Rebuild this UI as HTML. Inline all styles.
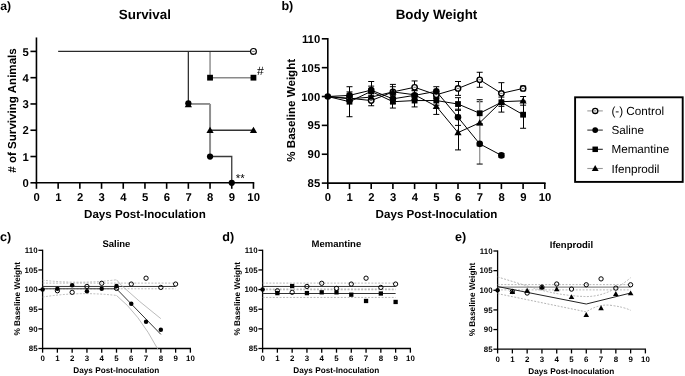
<!DOCTYPE html>
<html><head><meta charset="utf-8"><style>
html,body{margin:0;padding:0;background:#fff;}
svg{display:block;filter:grayscale(1);}
text{font-family:"Liberation Sans", sans-serif;text-rendering:geometricPrecision;}
</style></head><body>
<svg width="685" height="376" viewBox="0 0 685 376">
<rect width="685" height="376" fill="#fff"/>
<text x="0.30" y="9.70" font-size="12.2" font-weight="bold" text-anchor="start" fill="#000">a)</text>
<text x="144.90" y="19.40" font-size="13.4" font-weight="bold" text-anchor="middle" fill="#000">Survival</text>
<line x1="36.45" y1="183.60" x2="36.45" y2="37.47" stroke="#000" stroke-width="1.6"/>
<line x1="35.65" y1="182.80" x2="254.25" y2="182.80" stroke="#000" stroke-width="1.6"/>
<line x1="30.45" y1="182.80" x2="36.45" y2="182.80" stroke="#000" stroke-width="1.6"/>
<text x="28.85" y="186.90" font-size="11.3" font-weight="bold" text-anchor="end" fill="#000">0</text>
<line x1="30.45" y1="156.52" x2="36.45" y2="156.52" stroke="#000" stroke-width="1.6"/>
<text x="28.85" y="160.62" font-size="11.3" font-weight="bold" text-anchor="end" fill="#000">1</text>
<line x1="30.45" y1="130.24" x2="36.45" y2="130.24" stroke="#000" stroke-width="1.6"/>
<text x="28.85" y="134.34" font-size="11.3" font-weight="bold" text-anchor="end" fill="#000">2</text>
<line x1="30.45" y1="103.96" x2="36.45" y2="103.96" stroke="#000" stroke-width="1.6"/>
<text x="28.85" y="108.06" font-size="11.3" font-weight="bold" text-anchor="end" fill="#000">3</text>
<line x1="30.45" y1="77.68" x2="36.45" y2="77.68" stroke="#000" stroke-width="1.6"/>
<text x="28.85" y="81.78" font-size="11.3" font-weight="bold" text-anchor="end" fill="#000">4</text>
<line x1="30.45" y1="51.40" x2="36.45" y2="51.40" stroke="#000" stroke-width="1.6"/>
<text x="28.85" y="55.50" font-size="11.3" font-weight="bold" text-anchor="end" fill="#000">5</text>
<line x1="36.45" y1="182.80" x2="36.45" y2="188.80" stroke="#000" stroke-width="1.6"/>
<text x="36.65" y="201.20" font-size="11.3" font-weight="bold" text-anchor="middle" fill="#000">0</text>
<line x1="58.15" y1="182.80" x2="58.15" y2="188.80" stroke="#000" stroke-width="1.6"/>
<text x="58.35" y="201.20" font-size="11.3" font-weight="bold" text-anchor="middle" fill="#000">1</text>
<line x1="79.85" y1="182.80" x2="79.85" y2="188.80" stroke="#000" stroke-width="1.6"/>
<text x="80.05" y="201.20" font-size="11.3" font-weight="bold" text-anchor="middle" fill="#000">2</text>
<line x1="101.55" y1="182.80" x2="101.55" y2="188.80" stroke="#000" stroke-width="1.6"/>
<text x="101.75" y="201.20" font-size="11.3" font-weight="bold" text-anchor="middle" fill="#000">3</text>
<line x1="123.25" y1="182.80" x2="123.25" y2="188.80" stroke="#000" stroke-width="1.6"/>
<text x="123.45" y="201.20" font-size="11.3" font-weight="bold" text-anchor="middle" fill="#000">4</text>
<line x1="144.95" y1="182.80" x2="144.95" y2="188.80" stroke="#000" stroke-width="1.6"/>
<text x="145.15" y="201.20" font-size="11.3" font-weight="bold" text-anchor="middle" fill="#000">5</text>
<line x1="166.65" y1="182.80" x2="166.65" y2="188.80" stroke="#000" stroke-width="1.6"/>
<text x="166.85" y="201.20" font-size="11.3" font-weight="bold" text-anchor="middle" fill="#000">6</text>
<line x1="188.35" y1="182.80" x2="188.35" y2="188.80" stroke="#000" stroke-width="1.6"/>
<text x="188.55" y="201.20" font-size="11.3" font-weight="bold" text-anchor="middle" fill="#000">7</text>
<line x1="210.05" y1="182.80" x2="210.05" y2="188.80" stroke="#000" stroke-width="1.6"/>
<text x="210.25" y="201.20" font-size="11.3" font-weight="bold" text-anchor="middle" fill="#000">8</text>
<line x1="231.75" y1="182.80" x2="231.75" y2="188.80" stroke="#000" stroke-width="1.6"/>
<text x="231.95" y="201.20" font-size="11.3" font-weight="bold" text-anchor="middle" fill="#000">9</text>
<line x1="253.45" y1="182.80" x2="253.45" y2="188.80" stroke="#000" stroke-width="1.6"/>
<text x="253.65" y="201.20" font-size="11.3" font-weight="bold" text-anchor="middle" fill="#000">10</text>
<text x="144.90" y="218.30" font-size="11.6" font-weight="bold" text-anchor="middle" fill="#000">Days Post-Inoculation</text>
<text x="16.00" y="110.50" font-size="11.6" font-weight="bold" text-anchor="middle" fill="#000" transform="rotate(-90 16.0 110.5)"># of Surviving Animals</text>
<polyline points="210.05,51.40 210.05,77.68 253.45,77.68" fill="none" stroke="#8a8a8a" stroke-width="1.4"/>
<polyline points="188.35,51.40 188.35,103.96" fill="none" stroke="#333" stroke-width="1.3"/>
<polyline points="188.35,103.96 210.05,103.96" fill="none" stroke="#666" stroke-width="1.4"/>
<polyline points="210.05,103.96 210.05,156.52" fill="none" stroke="#8f8f8f" stroke-width="2.0"/>
<polyline points="210.05,130.24 253.45,130.24" fill="none" stroke="#333" stroke-width="1.3"/>
<polyline points="210.05,156.52 231.75,156.52 231.75,182.80" fill="none" stroke="#3a3a3a" stroke-width="1.3"/>
<polyline points="58.15,51.40 253.45,51.40" fill="none" stroke="#2a2a2a" stroke-width="1.3"/>
<circle cx="253.45" cy="51.40" r="2.90" fill="#fff" stroke="#000" stroke-width="1.2"/>
<line x1="252.15" y1="51.40" x2="254.75" y2="51.40" stroke="#555" stroke-width="0.90"/>
<rect x="207.15" y="74.78" width="5.80" height="5.80" fill="#000"/>
<rect x="250.55" y="74.78" width="5.80" height="5.80" fill="#000"/>
<circle cx="188.35" cy="103.36" r="3.13" fill="#000"/>
<polygon points="188.35,100.96 191.95,107.26 184.75,107.26" fill="#000"/>
<polygon points="210.05,126.64 213.65,132.94 206.45,132.94" fill="#000"/>
<polygon points="253.45,126.64 257.05,132.94 249.85,132.94" fill="#000"/>
<circle cx="210.05" cy="156.52" r="3.13" fill="#000"/>
<circle cx="231.75" cy="182.80" r="3.13" fill="#000"/>
<text x="257.00" y="75.00" font-size="12.2" font-weight="normal" text-anchor="start" fill="#000">#</text>
<text x="235.80" y="181.60" font-size="11.5" font-weight="normal" text-anchor="start" fill="#000">**</text>
<text x="281.40" y="9.60" font-size="12.6" font-weight="bold" text-anchor="start" fill="#000">b)</text>
<text x="436.50" y="19.30" font-size="13.4" font-weight="bold" text-anchor="middle" fill="#000">Body Weight</text>
<line x1="327.80" y1="183.90" x2="327.80" y2="38.00" stroke="#000" stroke-width="1.6"/>
<line x1="327.00" y1="183.10" x2="545.60" y2="183.10" stroke="#000" stroke-width="1.6"/>
<line x1="321.80" y1="183.10" x2="327.80" y2="183.10" stroke="#000" stroke-width="1.6"/>
<text x="320.20" y="187.20" font-size="11.3" font-weight="bold" text-anchor="end" fill="#000">85</text>
<line x1="321.80" y1="154.24" x2="327.80" y2="154.24" stroke="#000" stroke-width="1.6"/>
<text x="320.20" y="158.34" font-size="11.3" font-weight="bold" text-anchor="end" fill="#000">90</text>
<line x1="321.80" y1="125.38" x2="327.80" y2="125.38" stroke="#000" stroke-width="1.6"/>
<text x="320.20" y="129.48" font-size="11.3" font-weight="bold" text-anchor="end" fill="#000">95</text>
<line x1="321.80" y1="96.52" x2="327.80" y2="96.52" stroke="#000" stroke-width="1.6"/>
<text x="320.20" y="100.62" font-size="11.3" font-weight="bold" text-anchor="end" fill="#000">100</text>
<line x1="321.80" y1="67.66" x2="327.80" y2="67.66" stroke="#000" stroke-width="1.6"/>
<text x="320.20" y="71.76" font-size="11.3" font-weight="bold" text-anchor="end" fill="#000">105</text>
<line x1="321.80" y1="38.80" x2="327.80" y2="38.80" stroke="#000" stroke-width="1.6"/>
<text x="320.20" y="42.90" font-size="11.3" font-weight="bold" text-anchor="end" fill="#000">110</text>
<line x1="327.80" y1="183.10" x2="327.80" y2="189.10" stroke="#000" stroke-width="1.6"/>
<text x="328.00" y="201.20" font-size="11.3" font-weight="bold" text-anchor="middle" fill="#000">0</text>
<line x1="349.50" y1="183.10" x2="349.50" y2="189.10" stroke="#000" stroke-width="1.6"/>
<text x="349.70" y="201.20" font-size="11.3" font-weight="bold" text-anchor="middle" fill="#000">1</text>
<line x1="371.20" y1="183.10" x2="371.20" y2="189.10" stroke="#000" stroke-width="1.6"/>
<text x="371.40" y="201.20" font-size="11.3" font-weight="bold" text-anchor="middle" fill="#000">2</text>
<line x1="392.90" y1="183.10" x2="392.90" y2="189.10" stroke="#000" stroke-width="1.6"/>
<text x="393.10" y="201.20" font-size="11.3" font-weight="bold" text-anchor="middle" fill="#000">3</text>
<line x1="414.60" y1="183.10" x2="414.60" y2="189.10" stroke="#000" stroke-width="1.6"/>
<text x="414.80" y="201.20" font-size="11.3" font-weight="bold" text-anchor="middle" fill="#000">4</text>
<line x1="436.30" y1="183.10" x2="436.30" y2="189.10" stroke="#000" stroke-width="1.6"/>
<text x="436.50" y="201.20" font-size="11.3" font-weight="bold" text-anchor="middle" fill="#000">5</text>
<line x1="458.00" y1="183.10" x2="458.00" y2="189.10" stroke="#000" stroke-width="1.6"/>
<text x="458.20" y="201.20" font-size="11.3" font-weight="bold" text-anchor="middle" fill="#000">6</text>
<line x1="479.70" y1="183.10" x2="479.70" y2="189.10" stroke="#000" stroke-width="1.6"/>
<text x="479.90" y="201.20" font-size="11.3" font-weight="bold" text-anchor="middle" fill="#000">7</text>
<line x1="501.40" y1="183.10" x2="501.40" y2="189.10" stroke="#000" stroke-width="1.6"/>
<text x="501.60" y="201.20" font-size="11.3" font-weight="bold" text-anchor="middle" fill="#000">8</text>
<line x1="523.10" y1="183.10" x2="523.10" y2="189.10" stroke="#000" stroke-width="1.6"/>
<text x="523.30" y="201.20" font-size="11.3" font-weight="bold" text-anchor="middle" fill="#000">9</text>
<line x1="544.80" y1="183.10" x2="544.80" y2="189.10" stroke="#000" stroke-width="1.6"/>
<text x="545.00" y="201.20" font-size="11.3" font-weight="bold" text-anchor="middle" fill="#000">10</text>
<text x="436.50" y="218.30" font-size="11.6" font-weight="bold" text-anchor="middle" fill="#000">Days Post-Inoculation</text>
<text x="295.00" y="110.30" font-size="11.6" font-weight="bold" text-anchor="middle" fill="#000" transform="rotate(-90 295.0 110.3)">% Baseline Weight</text>
<line x1="349.50" y1="95.94" x2="349.50" y2="100.56" stroke="#000" stroke-width="1.0" shape-rendering="crispEdges"/>
<line x1="346.50" y1="95.94" x2="352.50" y2="95.94" stroke="#000" stroke-width="1.0"/>
<line x1="346.50" y1="100.56" x2="352.50" y2="100.56" stroke="#000" stroke-width="1.0"/>
<line x1="371.20" y1="95.37" x2="371.20" y2="105.76" stroke="#000" stroke-width="1.0" shape-rendering="crispEdges"/>
<line x1="368.20" y1="95.37" x2="374.20" y2="95.37" stroke="#000" stroke-width="1.0"/>
<line x1="368.20" y1="105.76" x2="374.20" y2="105.76" stroke="#000" stroke-width="1.0"/>
<line x1="392.90" y1="84.40" x2="392.90" y2="99.41" stroke="#000" stroke-width="1.0" shape-rendering="crispEdges"/>
<line x1="389.90" y1="84.40" x2="395.90" y2="84.40" stroke="#000" stroke-width="1.0"/>
<line x1="389.90" y1="99.41" x2="395.90" y2="99.41" stroke="#000" stroke-width="1.0"/>
<line x1="414.60" y1="80.94" x2="414.60" y2="93.63" stroke="#000" stroke-width="1.0" shape-rendering="crispEdges"/>
<line x1="411.60" y1="80.94" x2="417.60" y2="80.94" stroke="#000" stroke-width="1.0"/>
<line x1="411.60" y1="93.63" x2="417.60" y2="93.63" stroke="#000" stroke-width="1.0"/>
<line x1="436.30" y1="91.90" x2="436.30" y2="97.67" stroke="#000" stroke-width="1.0" shape-rendering="crispEdges"/>
<line x1="433.30" y1="91.90" x2="439.30" y2="91.90" stroke="#000" stroke-width="1.0"/>
<line x1="433.30" y1="97.67" x2="439.30" y2="97.67" stroke="#000" stroke-width="1.0"/>
<line x1="458.00" y1="81.51" x2="458.00" y2="95.37" stroke="#000" stroke-width="1.0" shape-rendering="crispEdges"/>
<line x1="455.00" y1="81.51" x2="461.00" y2="81.51" stroke="#000" stroke-width="1.0"/>
<line x1="455.00" y1="95.37" x2="461.00" y2="95.37" stroke="#000" stroke-width="1.0"/>
<line x1="479.70" y1="72.28" x2="479.70" y2="87.28" stroke="#000" stroke-width="1.0" shape-rendering="crispEdges"/>
<line x1="476.70" y1="72.28" x2="482.70" y2="72.28" stroke="#000" stroke-width="1.0"/>
<line x1="476.70" y1="87.28" x2="482.70" y2="87.28" stroke="#000" stroke-width="1.0"/>
<line x1="501.40" y1="82.67" x2="501.40" y2="104.02" stroke="#000" stroke-width="1.0" shape-rendering="crispEdges"/>
<line x1="498.40" y1="82.67" x2="504.40" y2="82.67" stroke="#000" stroke-width="1.0"/>
<line x1="498.40" y1="104.02" x2="504.40" y2="104.02" stroke="#000" stroke-width="1.0"/>
<line x1="523.10" y1="86.13" x2="523.10" y2="90.75" stroke="#000" stroke-width="1.0" shape-rendering="crispEdges"/>
<line x1="520.10" y1="86.13" x2="526.10" y2="86.13" stroke="#000" stroke-width="1.0"/>
<line x1="520.10" y1="90.75" x2="526.10" y2="90.75" stroke="#000" stroke-width="1.0"/>
<line x1="349.50" y1="91.90" x2="349.50" y2="98.83" stroke="#000" stroke-width="1.0" shape-rendering="crispEdges"/>
<line x1="346.50" y1="91.90" x2="352.50" y2="91.90" stroke="#000" stroke-width="1.0"/>
<line x1="346.50" y1="98.83" x2="352.50" y2="98.83" stroke="#000" stroke-width="1.0"/>
<line x1="371.20" y1="81.51" x2="371.20" y2="98.83" stroke="#000" stroke-width="1.0" shape-rendering="crispEdges"/>
<line x1="368.20" y1="81.51" x2="374.20" y2="81.51" stroke="#000" stroke-width="1.0"/>
<line x1="368.20" y1="98.83" x2="374.20" y2="98.83" stroke="#000" stroke-width="1.0"/>
<line x1="392.90" y1="94.21" x2="392.90" y2="103.45" stroke="#000" stroke-width="1.0" shape-rendering="crispEdges"/>
<line x1="389.90" y1="94.21" x2="395.90" y2="94.21" stroke="#000" stroke-width="1.0"/>
<line x1="389.90" y1="103.45" x2="395.90" y2="103.45" stroke="#000" stroke-width="1.0"/>
<line x1="414.60" y1="90.75" x2="414.60" y2="99.98" stroke="#000" stroke-width="1.0" shape-rendering="crispEdges"/>
<line x1="411.60" y1="90.75" x2="417.60" y2="90.75" stroke="#000" stroke-width="1.0"/>
<line x1="411.60" y1="99.98" x2="417.60" y2="99.98" stroke="#000" stroke-width="1.0"/>
<line x1="436.30" y1="86.71" x2="436.30" y2="95.94" stroke="#000" stroke-width="1.0" shape-rendering="crispEdges"/>
<line x1="433.30" y1="86.71" x2="439.30" y2="86.71" stroke="#000" stroke-width="1.0"/>
<line x1="433.30" y1="95.94" x2="439.30" y2="95.94" stroke="#000" stroke-width="1.0"/>
<line x1="458.00" y1="109.22" x2="458.00" y2="125.38" stroke="#000" stroke-width="1.0" shape-rendering="crispEdges"/>
<line x1="455.00" y1="109.22" x2="461.00" y2="109.22" stroke="#000" stroke-width="1.0"/>
<line x1="455.00" y1="125.38" x2="461.00" y2="125.38" stroke="#000" stroke-width="1.0"/>
<line x1="479.70" y1="123.65" x2="479.70" y2="164.05" stroke="#969696" stroke-width="1.3"/>
<line x1="476.70" y1="123.65" x2="482.70" y2="123.65" stroke="#000" stroke-width="1.0"/>
<line x1="476.70" y1="164.05" x2="482.70" y2="164.05" stroke="#000" stroke-width="1.0"/>
<line x1="501.40" y1="153.66" x2="501.40" y2="157.13" stroke="#000" stroke-width="1.0" shape-rendering="crispEdges"/>
<line x1="498.40" y1="153.66" x2="504.40" y2="153.66" stroke="#000" stroke-width="1.0"/>
<line x1="498.40" y1="157.13" x2="504.40" y2="157.13" stroke="#000" stroke-width="1.0"/>
<line x1="349.50" y1="86.71" x2="349.50" y2="116.72" stroke="#000" stroke-width="1.0" shape-rendering="crispEdges"/>
<line x1="346.50" y1="86.71" x2="352.50" y2="86.71" stroke="#000" stroke-width="1.0"/>
<line x1="346.50" y1="116.72" x2="352.50" y2="116.72" stroke="#000" stroke-width="1.0"/>
<line x1="371.20" y1="86.13" x2="371.20" y2="96.52" stroke="#000" stroke-width="1.0" shape-rendering="crispEdges"/>
<line x1="368.20" y1="86.13" x2="374.20" y2="86.13" stroke="#000" stroke-width="1.0"/>
<line x1="368.20" y1="96.52" x2="374.20" y2="96.52" stroke="#000" stroke-width="1.0"/>
<line x1="392.90" y1="95.37" x2="392.90" y2="108.06" stroke="#000" stroke-width="1.0" shape-rendering="crispEdges"/>
<line x1="389.90" y1="95.37" x2="395.90" y2="95.37" stroke="#000" stroke-width="1.0"/>
<line x1="389.90" y1="108.06" x2="395.90" y2="108.06" stroke="#000" stroke-width="1.0"/>
<line x1="414.60" y1="94.21" x2="414.60" y2="106.91" stroke="#000" stroke-width="1.0" shape-rendering="crispEdges"/>
<line x1="411.60" y1="94.21" x2="417.60" y2="94.21" stroke="#000" stroke-width="1.0"/>
<line x1="411.60" y1="106.91" x2="417.60" y2="106.91" stroke="#000" stroke-width="1.0"/>
<line x1="436.30" y1="95.94" x2="436.30" y2="105.18" stroke="#000" stroke-width="1.0" shape-rendering="crispEdges"/>
<line x1="433.30" y1="95.94" x2="439.30" y2="95.94" stroke="#000" stroke-width="1.0"/>
<line x1="433.30" y1="105.18" x2="439.30" y2="105.18" stroke="#000" stroke-width="1.0"/>
<line x1="458.00" y1="97.67" x2="458.00" y2="110.37" stroke="#000" stroke-width="1.0" shape-rendering="crispEdges"/>
<line x1="455.00" y1="97.67" x2="461.00" y2="97.67" stroke="#000" stroke-width="1.0"/>
<line x1="455.00" y1="110.37" x2="461.00" y2="110.37" stroke="#000" stroke-width="1.0"/>
<line x1="479.70" y1="101.71" x2="479.70" y2="124.80" stroke="#000" stroke-width="1.0" shape-rendering="crispEdges"/>
<line x1="476.70" y1="101.71" x2="482.70" y2="101.71" stroke="#000" stroke-width="1.0"/>
<line x1="476.70" y1="124.80" x2="482.70" y2="124.80" stroke="#000" stroke-width="1.0"/>
<line x1="501.40" y1="92.48" x2="501.40" y2="112.10" stroke="#000" stroke-width="1.0" shape-rendering="crispEdges"/>
<line x1="498.40" y1="92.48" x2="504.40" y2="92.48" stroke="#000" stroke-width="1.0"/>
<line x1="498.40" y1="112.10" x2="504.40" y2="112.10" stroke="#000" stroke-width="1.0"/>
<line x1="523.10" y1="101.14" x2="523.10" y2="128.27" stroke="#000" stroke-width="1.0" shape-rendering="crispEdges"/>
<line x1="520.10" y1="101.14" x2="526.10" y2="101.14" stroke="#000" stroke-width="1.0"/>
<line x1="520.10" y1="128.27" x2="526.10" y2="128.27" stroke="#000" stroke-width="1.0"/>
<line x1="349.50" y1="95.94" x2="349.50" y2="101.71" stroke="#000" stroke-width="1.0" shape-rendering="crispEdges"/>
<line x1="346.50" y1="95.94" x2="352.50" y2="95.94" stroke="#000" stroke-width="1.0"/>
<line x1="346.50" y1="101.71" x2="352.50" y2="101.71" stroke="#000" stroke-width="1.0"/>
<line x1="371.20" y1="93.06" x2="371.20" y2="101.14" stroke="#000" stroke-width="1.0" shape-rendering="crispEdges"/>
<line x1="368.20" y1="93.06" x2="374.20" y2="93.06" stroke="#000" stroke-width="1.0"/>
<line x1="368.20" y1="101.14" x2="374.20" y2="101.14" stroke="#000" stroke-width="1.0"/>
<line x1="392.90" y1="86.71" x2="392.90" y2="97.10" stroke="#000" stroke-width="1.0" shape-rendering="crispEdges"/>
<line x1="389.90" y1="86.71" x2="395.90" y2="86.71" stroke="#000" stroke-width="1.0"/>
<line x1="389.90" y1="97.10" x2="395.90" y2="97.10" stroke="#000" stroke-width="1.0"/>
<line x1="414.60" y1="90.17" x2="414.60" y2="99.41" stroke="#000" stroke-width="1.0" shape-rendering="crispEdges"/>
<line x1="411.60" y1="90.17" x2="417.60" y2="90.17" stroke="#000" stroke-width="1.0"/>
<line x1="411.60" y1="99.41" x2="417.60" y2="99.41" stroke="#000" stroke-width="1.0"/>
<line x1="436.30" y1="98.25" x2="436.30" y2="114.41" stroke="#000" stroke-width="1.0" shape-rendering="crispEdges"/>
<line x1="433.30" y1="98.25" x2="439.30" y2="98.25" stroke="#000" stroke-width="1.0"/>
<line x1="433.30" y1="114.41" x2="439.30" y2="114.41" stroke="#000" stroke-width="1.0"/>
<line x1="458.00" y1="115.28" x2="458.00" y2="149.91" stroke="#000" stroke-width="1.0" shape-rendering="crispEdges"/>
<line x1="455.00" y1="115.28" x2="461.00" y2="115.28" stroke="#000" stroke-width="1.0"/>
<line x1="455.00" y1="149.91" x2="461.00" y2="149.91" stroke="#000" stroke-width="1.0"/>
<line x1="479.70" y1="99.69" x2="479.70" y2="145.87" stroke="#969696" stroke-width="1.3"/>
<line x1="476.70" y1="99.69" x2="482.70" y2="99.69" stroke="#000" stroke-width="1.0"/>
<line x1="476.70" y1="145.87" x2="482.70" y2="145.87" stroke="#000" stroke-width="1.0"/>
<line x1="501.40" y1="97.10" x2="501.40" y2="106.33" stroke="#000" stroke-width="1.0" shape-rendering="crispEdges"/>
<line x1="498.40" y1="97.10" x2="504.40" y2="97.10" stroke="#000" stroke-width="1.0"/>
<line x1="498.40" y1="106.33" x2="504.40" y2="106.33" stroke="#000" stroke-width="1.0"/>
<line x1="523.10" y1="96.52" x2="523.10" y2="105.18" stroke="#000" stroke-width="1.0" shape-rendering="crispEdges"/>
<line x1="520.10" y1="96.52" x2="526.10" y2="96.52" stroke="#000" stroke-width="1.0"/>
<line x1="520.10" y1="105.18" x2="526.10" y2="105.18" stroke="#000" stroke-width="1.0"/>
<polyline points="327.80,96.52 349.50,98.25 371.20,100.56 392.90,91.90 414.60,87.28 436.30,94.79 458.00,88.44 479.70,79.78 501.40,93.35 523.10,88.44" fill="none" stroke="#000" stroke-width="1.0"/>
<polyline points="327.80,96.52 349.50,95.37 371.20,90.17 392.90,98.83 414.60,95.37 436.30,91.33 458.00,117.30 479.70,143.85 501.40,155.39" fill="none" stroke="#000" stroke-width="1.0"/>
<polyline points="327.80,96.52 349.50,101.71 371.20,91.33 392.90,101.71 414.60,100.56 436.30,100.56 458.00,104.02 479.70,113.26 501.40,102.29 523.10,114.70" fill="none" stroke="#000" stroke-width="1.0"/>
<polyline points="327.80,96.52 349.50,98.83 371.20,97.10 392.90,91.90 414.60,94.79 436.30,106.33 458.00,132.59 479.70,122.78 501.40,101.71 523.10,100.85" fill="none" stroke="#000" stroke-width="1.0"/>
<circle cx="349.50" cy="98.25" r="2.67" fill="#fff" stroke="#000" stroke-width="1.45"/>
<line x1="348.30" y1="98.25" x2="350.70" y2="98.25" stroke="#555" stroke-width="0.83"/>
<circle cx="371.20" cy="100.56" r="2.67" fill="#fff" stroke="#000" stroke-width="1.45"/>
<line x1="370.00" y1="100.56" x2="372.40" y2="100.56" stroke="#555" stroke-width="0.83"/>
<circle cx="392.90" cy="91.90" r="2.67" fill="#fff" stroke="#000" stroke-width="1.45"/>
<line x1="391.70" y1="91.90" x2="394.10" y2="91.90" stroke="#555" stroke-width="0.83"/>
<circle cx="414.60" cy="87.28" r="2.67" fill="#fff" stroke="#000" stroke-width="1.45"/>
<line x1="413.40" y1="87.28" x2="415.80" y2="87.28" stroke="#555" stroke-width="0.83"/>
<circle cx="436.30" cy="94.79" r="2.67" fill="#fff" stroke="#000" stroke-width="1.45"/>
<line x1="435.10" y1="94.79" x2="437.50" y2="94.79" stroke="#555" stroke-width="0.83"/>
<circle cx="458.00" cy="88.44" r="2.67" fill="#fff" stroke="#000" stroke-width="1.45"/>
<line x1="456.80" y1="88.44" x2="459.20" y2="88.44" stroke="#555" stroke-width="0.83"/>
<circle cx="479.70" cy="79.78" r="2.67" fill="#fff" stroke="#000" stroke-width="1.45"/>
<line x1="478.50" y1="79.78" x2="480.90" y2="79.78" stroke="#555" stroke-width="0.83"/>
<circle cx="501.40" cy="93.35" r="2.67" fill="#fff" stroke="#000" stroke-width="1.45"/>
<line x1="500.20" y1="93.35" x2="502.60" y2="93.35" stroke="#555" stroke-width="0.83"/>
<circle cx="523.10" cy="88.44" r="2.67" fill="#fff" stroke="#000" stroke-width="1.45"/>
<line x1="521.90" y1="88.44" x2="524.30" y2="88.44" stroke="#555" stroke-width="0.83"/>
<circle cx="349.50" cy="95.37" r="3.30" fill="#000"/>
<circle cx="371.20" cy="90.17" r="3.30" fill="#000"/>
<circle cx="392.90" cy="98.83" r="3.30" fill="#000"/>
<circle cx="414.60" cy="95.37" r="3.30" fill="#000"/>
<circle cx="436.30" cy="91.33" r="3.30" fill="#000"/>
<circle cx="458.00" cy="117.30" r="3.30" fill="#000"/>
<circle cx="479.70" cy="143.85" r="3.30" fill="#000"/>
<circle cx="501.40" cy="155.39" r="3.30" fill="#000"/>
<rect x="346.60" y="98.81" width="5.80" height="5.80" fill="#000"/>
<rect x="368.30" y="88.43" width="5.80" height="5.80" fill="#000"/>
<rect x="390.00" y="98.81" width="5.80" height="5.80" fill="#000"/>
<rect x="411.70" y="97.66" width="5.80" height="5.80" fill="#000"/>
<rect x="433.40" y="97.66" width="5.80" height="5.80" fill="#000"/>
<rect x="455.10" y="101.12" width="5.80" height="5.80" fill="#000"/>
<rect x="476.80" y="110.36" width="5.80" height="5.80" fill="#000"/>
<rect x="498.50" y="99.39" width="5.80" height="5.80" fill="#000"/>
<rect x="520.20" y="111.80" width="5.80" height="5.80" fill="#000"/>
<polygon points="349.50,95.23 353.10,101.53 345.90,101.53" fill="#000"/>
<polygon points="371.20,93.50 374.80,99.80 367.60,99.80" fill="#000"/>
<polygon points="392.90,88.30 396.50,94.60 389.30,94.60" fill="#000"/>
<polygon points="414.60,91.19 418.20,97.49 411.00,97.49" fill="#000"/>
<polygon points="436.30,102.73 439.90,109.03 432.70,109.03" fill="#000"/>
<polygon points="458.00,129.00 461.60,135.29 454.40,135.29" fill="#000"/>
<polygon points="479.70,119.18 483.30,125.48 476.10,125.48" fill="#000"/>
<polygon points="501.40,98.11 505.00,104.41 497.80,104.41" fill="#000"/>
<polygon points="523.10,97.25 526.70,103.55 519.50,103.55" fill="#000"/>
<circle cx="327.80" cy="96.52" r="3.30" fill="#000"/>
<rect x="575.1" y="97.3" width="107.6" height="84.6" fill="none" stroke="#000" stroke-width="1.9"/>
<line x1="587.30" y1="110.90" x2="602.80" y2="110.90" stroke="#999" stroke-width="1.1"/>
<circle cx="595.20" cy="110.90" r="2.61" fill="#fff" stroke="#000" stroke-width="1.3"/>
<line x1="594.03" y1="110.90" x2="596.37" y2="110.90" stroke="#555" stroke-width="0.81"/>
<text x="611.40" y="115.00" font-size="11.7" font-weight="normal" text-anchor="start" fill="#000">(-) Control</text>
<line x1="587.30" y1="130.10" x2="602.80" y2="130.10" stroke="#333" stroke-width="1.1"/>
<circle cx="595.20" cy="130.10" r="2.90" fill="#000"/>
<text x="611.40" y="134.20" font-size="11.7" font-weight="normal" text-anchor="start" fill="#000">Saline</text>
<line x1="587.30" y1="149.30" x2="602.80" y2="149.30" stroke="#222" stroke-width="1.1"/>
<rect x="592.45" y="146.55" width="5.51" height="5.51" fill="#000"/>
<text x="611.40" y="153.40" font-size="11.7" font-weight="normal" text-anchor="start" fill="#000">Memantine</text>
<line x1="587.30" y1="168.50" x2="602.80" y2="168.50" stroke="#999" stroke-width="1.1"/>
<polygon points="595.20,165.08 598.62,171.06 591.78,171.06" fill="#000"/>
<text x="611.40" y="172.60" font-size="11.7" font-weight="normal" text-anchor="start" fill="#000">Ifenprodil</text>
<text x="-0.10" y="241.20" font-size="12.6" font-weight="bold" text-anchor="start" fill="#000">c)</text>
<text x="116.40" y="247.10" font-size="9.5" font-weight="bold" text-anchor="middle" fill="#000">Saline</text>
<line x1="42.60" y1="349.10" x2="42.60" y2="249.70" stroke="#000" stroke-width="1.3"/>
<line x1="42.00" y1="348.50" x2="191.00" y2="348.50" stroke="#000" stroke-width="1.3"/>
<line x1="38.40" y1="348.50" x2="42.60" y2="348.50" stroke="#000" stroke-width="1.3"/>
<text x="37.60" y="351.35" font-size="7.9" font-weight="bold" text-anchor="end" fill="#000">85</text>
<line x1="38.40" y1="328.86" x2="42.60" y2="328.86" stroke="#000" stroke-width="1.3"/>
<text x="37.60" y="331.71" font-size="7.9" font-weight="bold" text-anchor="end" fill="#000">90</text>
<line x1="38.40" y1="309.22" x2="42.60" y2="309.22" stroke="#000" stroke-width="1.3"/>
<text x="37.60" y="312.07" font-size="7.9" font-weight="bold" text-anchor="end" fill="#000">95</text>
<line x1="38.40" y1="289.58" x2="42.60" y2="289.58" stroke="#000" stroke-width="1.3"/>
<text x="37.60" y="292.43" font-size="7.9" font-weight="bold" text-anchor="end" fill="#000">100</text>
<line x1="38.40" y1="269.94" x2="42.60" y2="269.94" stroke="#000" stroke-width="1.3"/>
<text x="37.60" y="272.79" font-size="7.9" font-weight="bold" text-anchor="end" fill="#000">105</text>
<line x1="38.40" y1="250.30" x2="42.60" y2="250.30" stroke="#000" stroke-width="1.3"/>
<text x="37.60" y="253.15" font-size="7.9" font-weight="bold" text-anchor="end" fill="#000">110</text>
<line x1="42.60" y1="348.50" x2="42.60" y2="352.70" stroke="#000" stroke-width="1.3"/>
<text x="42.60" y="361.00" font-size="7.9" font-weight="bold" text-anchor="middle" fill="#000">0</text>
<line x1="57.38" y1="348.50" x2="57.38" y2="352.70" stroke="#000" stroke-width="1.3"/>
<text x="57.38" y="361.00" font-size="7.9" font-weight="bold" text-anchor="middle" fill="#000">1</text>
<line x1="72.16" y1="348.50" x2="72.16" y2="352.70" stroke="#000" stroke-width="1.3"/>
<text x="72.16" y="361.00" font-size="7.9" font-weight="bold" text-anchor="middle" fill="#000">2</text>
<line x1="86.94" y1="348.50" x2="86.94" y2="352.70" stroke="#000" stroke-width="1.3"/>
<text x="86.94" y="361.00" font-size="7.9" font-weight="bold" text-anchor="middle" fill="#000">3</text>
<line x1="101.72" y1="348.50" x2="101.72" y2="352.70" stroke="#000" stroke-width="1.3"/>
<text x="101.72" y="361.00" font-size="7.9" font-weight="bold" text-anchor="middle" fill="#000">4</text>
<line x1="116.50" y1="348.50" x2="116.50" y2="352.70" stroke="#000" stroke-width="1.3"/>
<text x="116.50" y="361.00" font-size="7.9" font-weight="bold" text-anchor="middle" fill="#000">5</text>
<line x1="131.28" y1="348.50" x2="131.28" y2="352.70" stroke="#000" stroke-width="1.3"/>
<text x="131.28" y="361.00" font-size="7.9" font-weight="bold" text-anchor="middle" fill="#000">6</text>
<line x1="146.06" y1="348.50" x2="146.06" y2="352.70" stroke="#000" stroke-width="1.3"/>
<text x="146.06" y="361.00" font-size="7.9" font-weight="bold" text-anchor="middle" fill="#000">7</text>
<line x1="160.84" y1="348.50" x2="160.84" y2="352.70" stroke="#000" stroke-width="1.3"/>
<text x="160.84" y="361.00" font-size="7.9" font-weight="bold" text-anchor="middle" fill="#000">8</text>
<line x1="175.62" y1="348.50" x2="175.62" y2="352.70" stroke="#000" stroke-width="1.3"/>
<text x="175.62" y="361.00" font-size="7.9" font-weight="bold" text-anchor="middle" fill="#000">9</text>
<line x1="190.40" y1="348.50" x2="190.40" y2="352.70" stroke="#000" stroke-width="1.3"/>
<text x="190.40" y="361.00" font-size="7.9" font-weight="bold" text-anchor="middle" fill="#000">10</text>
<text x="116.35" y="372.90" font-size="8.2" font-weight="bold" text-anchor="middle" fill="#000">Days Post-Inoculation</text>
<text x="20.00" y="298.80" font-size="8.3" font-weight="bold" text-anchor="middle" fill="#000" transform="rotate(-90 20.0 298.8)">% Baseline Weight</text>
<polyline points="42.60,288.79 175.62,288.79" fill="none" stroke="#a4a4a4" stroke-width="0.8" stroke-dasharray="1.9,1.5"/>
<polyline points="42.60,283.10 175.62,283.10" fill="none" stroke="#a4a4a4" stroke-width="0.8" stroke-dasharray="1.9,1.5"/>
<line x1="42.60" y1="286.44" x2="175.62" y2="286.44" stroke="#333" stroke-width="1.0"/>
<path d="M42.60,280.15 Q79.55,284.47 116.50,279.76" fill="none" stroke="#aaa" stroke-width="0.8" stroke-dasharray="1.9,1.5"/>
<path d="M42.60,297.04 Q79.55,291.15 116.50,295.47" fill="none" stroke="#aaa" stroke-width="0.8" stroke-dasharray="1.9,1.5"/>
<path d="M116.50,279.76 L120.93,284.87 Q138.67,301.36 160.84,318.65" fill="none" stroke="#aaa" stroke-width="0.8"/>
<path d="M116.50,295.47 Q138.67,313.15 157.88,349.29" fill="none" stroke="#aaa" stroke-width="0.8"/>
<polyline points="42.60,288.79 116.50,288.79 160.84,334.36" fill="none" stroke="#333" stroke-width="1.0"/>
<circle cx="57.38" cy="290.76" r="2.15" fill="none" stroke="#000" stroke-width="1.0"/>
<circle cx="72.16" cy="292.33" r="2.15" fill="none" stroke="#000" stroke-width="1.0"/>
<circle cx="86.94" cy="286.44" r="2.15" fill="none" stroke="#000" stroke-width="1.0"/>
<circle cx="101.72" cy="283.30" r="2.15" fill="none" stroke="#000" stroke-width="1.0"/>
<circle cx="116.50" cy="288.40" r="2.15" fill="none" stroke="#000" stroke-width="1.0"/>
<circle cx="131.28" cy="284.08" r="2.15" fill="none" stroke="#000" stroke-width="1.0"/>
<circle cx="146.06" cy="278.19" r="2.15" fill="none" stroke="#000" stroke-width="1.0"/>
<circle cx="160.84" cy="287.42" r="2.15" fill="none" stroke="#000" stroke-width="1.0"/>
<circle cx="175.62" cy="284.08" r="2.15" fill="none" stroke="#000" stroke-width="1.0"/>
<circle cx="57.38" cy="288.79" r="2.24" fill="#000"/>
<circle cx="72.16" cy="285.26" r="2.24" fill="#000"/>
<circle cx="86.94" cy="291.15" r="2.24" fill="#000"/>
<circle cx="101.72" cy="288.79" r="2.24" fill="#000"/>
<circle cx="116.50" cy="286.04" r="2.24" fill="#000"/>
<circle cx="131.28" cy="303.72" r="2.24" fill="#000"/>
<circle cx="146.06" cy="321.79" r="2.24" fill="#000"/>
<circle cx="160.84" cy="329.65" r="2.24" fill="#000"/>
<circle cx="42.60" cy="289.58" r="2.24" fill="#000"/>
<text x="222.30" y="241.20" font-size="12.6" font-weight="bold" text-anchor="start" fill="#000">d)</text>
<text x="336.40" y="247.10" font-size="9.5" font-weight="bold" text-anchor="middle" fill="#000">Memantine</text>
<line x1="262.60" y1="349.10" x2="262.60" y2="249.70" stroke="#000" stroke-width="1.3"/>
<line x1="262.00" y1="348.50" x2="411.00" y2="348.50" stroke="#000" stroke-width="1.3"/>
<line x1="258.40" y1="348.50" x2="262.60" y2="348.50" stroke="#000" stroke-width="1.3"/>
<text x="257.60" y="351.35" font-size="7.9" font-weight="bold" text-anchor="end" fill="#000">85</text>
<line x1="258.40" y1="328.86" x2="262.60" y2="328.86" stroke="#000" stroke-width="1.3"/>
<text x="257.60" y="331.71" font-size="7.9" font-weight="bold" text-anchor="end" fill="#000">90</text>
<line x1="258.40" y1="309.22" x2="262.60" y2="309.22" stroke="#000" stroke-width="1.3"/>
<text x="257.60" y="312.07" font-size="7.9" font-weight="bold" text-anchor="end" fill="#000">95</text>
<line x1="258.40" y1="289.58" x2="262.60" y2="289.58" stroke="#000" stroke-width="1.3"/>
<text x="257.60" y="292.43" font-size="7.9" font-weight="bold" text-anchor="end" fill="#000">100</text>
<line x1="258.40" y1="269.94" x2="262.60" y2="269.94" stroke="#000" stroke-width="1.3"/>
<text x="257.60" y="272.79" font-size="7.9" font-weight="bold" text-anchor="end" fill="#000">105</text>
<line x1="258.40" y1="250.30" x2="262.60" y2="250.30" stroke="#000" stroke-width="1.3"/>
<text x="257.60" y="253.15" font-size="7.9" font-weight="bold" text-anchor="end" fill="#000">110</text>
<line x1="262.60" y1="348.50" x2="262.60" y2="352.70" stroke="#000" stroke-width="1.3"/>
<text x="262.60" y="361.00" font-size="7.9" font-weight="bold" text-anchor="middle" fill="#000">0</text>
<line x1="277.38" y1="348.50" x2="277.38" y2="352.70" stroke="#000" stroke-width="1.3"/>
<text x="277.38" y="361.00" font-size="7.9" font-weight="bold" text-anchor="middle" fill="#000">1</text>
<line x1="292.16" y1="348.50" x2="292.16" y2="352.70" stroke="#000" stroke-width="1.3"/>
<text x="292.16" y="361.00" font-size="7.9" font-weight="bold" text-anchor="middle" fill="#000">2</text>
<line x1="306.94" y1="348.50" x2="306.94" y2="352.70" stroke="#000" stroke-width="1.3"/>
<text x="306.94" y="361.00" font-size="7.9" font-weight="bold" text-anchor="middle" fill="#000">3</text>
<line x1="321.72" y1="348.50" x2="321.72" y2="352.70" stroke="#000" stroke-width="1.3"/>
<text x="321.72" y="361.00" font-size="7.9" font-weight="bold" text-anchor="middle" fill="#000">4</text>
<line x1="336.50" y1="348.50" x2="336.50" y2="352.70" stroke="#000" stroke-width="1.3"/>
<text x="336.50" y="361.00" font-size="7.9" font-weight="bold" text-anchor="middle" fill="#000">5</text>
<line x1="351.28" y1="348.50" x2="351.28" y2="352.70" stroke="#000" stroke-width="1.3"/>
<text x="351.28" y="361.00" font-size="7.9" font-weight="bold" text-anchor="middle" fill="#000">6</text>
<line x1="366.06" y1="348.50" x2="366.06" y2="352.70" stroke="#000" stroke-width="1.3"/>
<text x="366.06" y="361.00" font-size="7.9" font-weight="bold" text-anchor="middle" fill="#000">7</text>
<line x1="380.84" y1="348.50" x2="380.84" y2="352.70" stroke="#000" stroke-width="1.3"/>
<text x="380.84" y="361.00" font-size="7.9" font-weight="bold" text-anchor="middle" fill="#000">8</text>
<line x1="395.62" y1="348.50" x2="395.62" y2="352.70" stroke="#000" stroke-width="1.3"/>
<text x="395.62" y="361.00" font-size="7.9" font-weight="bold" text-anchor="middle" fill="#000">9</text>
<line x1="410.40" y1="348.50" x2="410.40" y2="352.70" stroke="#000" stroke-width="1.3"/>
<text x="410.40" y="361.00" font-size="7.9" font-weight="bold" text-anchor="middle" fill="#000">10</text>
<text x="336.35" y="372.90" font-size="8.2" font-weight="bold" text-anchor="middle" fill="#000">Days Post-Inoculation</text>
<text x="240.00" y="298.80" font-size="8.3" font-weight="bold" text-anchor="middle" fill="#000" transform="rotate(-90 240.0 298.8)">% Baseline Weight</text>
<polyline points="262.60,283.10 395.62,283.10" fill="none" stroke="#a4a4a4" stroke-width="0.8" stroke-dasharray="1.9,1.5"/>
<polyline points="262.60,288.99 395.62,288.99" fill="none" stroke="#a4a4a4" stroke-width="0.8" stroke-dasharray="1.9,1.5"/>
<polyline points="262.60,289.78 395.62,289.78" fill="none" stroke="#a4a4a4" stroke-width="0.8" stroke-dasharray="1.9,1.5"/>
<polyline points="262.60,297.44 395.62,297.44" fill="none" stroke="#a4a4a4" stroke-width="0.8" stroke-dasharray="1.9,1.5"/>
<line x1="262.60" y1="286.44" x2="395.62" y2="286.44" stroke="#333" stroke-width="1.0"/>
<line x1="262.60" y1="293.51" x2="395.62" y2="293.51" stroke="#333" stroke-width="1.0"/>
<circle cx="277.38" cy="290.76" r="2.15" fill="none" stroke="#000" stroke-width="1.0"/>
<circle cx="292.16" cy="292.33" r="2.15" fill="none" stroke="#000" stroke-width="1.0"/>
<circle cx="306.94" cy="286.44" r="2.15" fill="none" stroke="#000" stroke-width="1.0"/>
<circle cx="321.72" cy="283.30" r="2.15" fill="none" stroke="#000" stroke-width="1.0"/>
<circle cx="336.50" cy="288.40" r="2.15" fill="none" stroke="#000" stroke-width="1.0"/>
<circle cx="351.28" cy="284.08" r="2.15" fill="none" stroke="#000" stroke-width="1.0"/>
<circle cx="366.06" cy="278.19" r="2.15" fill="none" stroke="#000" stroke-width="1.0"/>
<circle cx="380.84" cy="287.42" r="2.15" fill="none" stroke="#000" stroke-width="1.0"/>
<circle cx="395.62" cy="284.08" r="2.15" fill="none" stroke="#000" stroke-width="1.0"/>
<rect x="275.23" y="290.97" width="4.29" height="4.29" fill="#000"/>
<rect x="290.01" y="283.90" width="4.29" height="4.29" fill="#000"/>
<rect x="304.79" y="290.97" width="4.29" height="4.29" fill="#000"/>
<rect x="319.57" y="290.18" width="4.29" height="4.29" fill="#000"/>
<rect x="334.35" y="290.18" width="4.29" height="4.29" fill="#000"/>
<rect x="349.13" y="292.54" width="4.29" height="4.29" fill="#000"/>
<rect x="363.91" y="298.83" width="4.29" height="4.29" fill="#000"/>
<rect x="378.69" y="291.36" width="4.29" height="4.29" fill="#000"/>
<rect x="393.47" y="299.81" width="4.29" height="4.29" fill="#000"/>
<circle cx="262.60" cy="289.58" r="2.24" fill="#000"/>
<text x="454.90" y="241.20" font-size="12.6" font-weight="bold" text-anchor="start" fill="#000">e)</text>
<text x="571.40" y="247.80" font-size="9.5" font-weight="bold" text-anchor="middle" fill="#000">Ifenprodil</text>
<line x1="497.60" y1="349.80" x2="497.60" y2="250.40" stroke="#000" stroke-width="1.3"/>
<line x1="497.00" y1="349.20" x2="646.00" y2="349.20" stroke="#000" stroke-width="1.3"/>
<line x1="493.40" y1="349.20" x2="497.60" y2="349.20" stroke="#000" stroke-width="1.3"/>
<text x="492.60" y="352.05" font-size="7.9" font-weight="bold" text-anchor="end" fill="#000">85</text>
<line x1="493.40" y1="329.56" x2="497.60" y2="329.56" stroke="#000" stroke-width="1.3"/>
<text x="492.60" y="332.41" font-size="7.9" font-weight="bold" text-anchor="end" fill="#000">90</text>
<line x1="493.40" y1="309.92" x2="497.60" y2="309.92" stroke="#000" stroke-width="1.3"/>
<text x="492.60" y="312.77" font-size="7.9" font-weight="bold" text-anchor="end" fill="#000">95</text>
<line x1="493.40" y1="290.28" x2="497.60" y2="290.28" stroke="#000" stroke-width="1.3"/>
<text x="492.60" y="293.13" font-size="7.9" font-weight="bold" text-anchor="end" fill="#000">100</text>
<line x1="493.40" y1="270.64" x2="497.60" y2="270.64" stroke="#000" stroke-width="1.3"/>
<text x="492.60" y="273.49" font-size="7.9" font-weight="bold" text-anchor="end" fill="#000">105</text>
<line x1="493.40" y1="251.00" x2="497.60" y2="251.00" stroke="#000" stroke-width="1.3"/>
<text x="492.60" y="253.85" font-size="7.9" font-weight="bold" text-anchor="end" fill="#000">110</text>
<line x1="497.60" y1="349.20" x2="497.60" y2="353.40" stroke="#000" stroke-width="1.3"/>
<text x="497.60" y="361.70" font-size="7.9" font-weight="bold" text-anchor="middle" fill="#000">0</text>
<line x1="512.38" y1="349.20" x2="512.38" y2="353.40" stroke="#000" stroke-width="1.3"/>
<text x="512.38" y="361.70" font-size="7.9" font-weight="bold" text-anchor="middle" fill="#000">1</text>
<line x1="527.16" y1="349.20" x2="527.16" y2="353.40" stroke="#000" stroke-width="1.3"/>
<text x="527.16" y="361.70" font-size="7.9" font-weight="bold" text-anchor="middle" fill="#000">2</text>
<line x1="541.94" y1="349.20" x2="541.94" y2="353.40" stroke="#000" stroke-width="1.3"/>
<text x="541.94" y="361.70" font-size="7.9" font-weight="bold" text-anchor="middle" fill="#000">3</text>
<line x1="556.72" y1="349.20" x2="556.72" y2="353.40" stroke="#000" stroke-width="1.3"/>
<text x="556.72" y="361.70" font-size="7.9" font-weight="bold" text-anchor="middle" fill="#000">4</text>
<line x1="571.50" y1="349.20" x2="571.50" y2="353.40" stroke="#000" stroke-width="1.3"/>
<text x="571.50" y="361.70" font-size="7.9" font-weight="bold" text-anchor="middle" fill="#000">5</text>
<line x1="586.28" y1="349.20" x2="586.28" y2="353.40" stroke="#000" stroke-width="1.3"/>
<text x="586.28" y="361.70" font-size="7.9" font-weight="bold" text-anchor="middle" fill="#000">6</text>
<line x1="601.06" y1="349.20" x2="601.06" y2="353.40" stroke="#000" stroke-width="1.3"/>
<text x="601.06" y="361.70" font-size="7.9" font-weight="bold" text-anchor="middle" fill="#000">7</text>
<line x1="615.84" y1="349.20" x2="615.84" y2="353.40" stroke="#000" stroke-width="1.3"/>
<text x="615.84" y="361.70" font-size="7.9" font-weight="bold" text-anchor="middle" fill="#000">8</text>
<line x1="630.62" y1="349.20" x2="630.62" y2="353.40" stroke="#000" stroke-width="1.3"/>
<text x="630.62" y="361.70" font-size="7.9" font-weight="bold" text-anchor="middle" fill="#000">9</text>
<line x1="645.40" y1="349.20" x2="645.40" y2="353.40" stroke="#000" stroke-width="1.3"/>
<text x="645.40" y="361.70" font-size="7.9" font-weight="bold" text-anchor="middle" fill="#000">10</text>
<text x="571.35" y="374.00" font-size="8.2" font-weight="bold" text-anchor="middle" fill="#000">Days Post-Inoculation</text>
<text x="475.00" y="299.50" font-size="8.3" font-weight="bold" text-anchor="middle" fill="#000" transform="rotate(-90 475.0 299.5)">% Baseline Weight</text>
<polyline points="497.60,284.58 630.62,284.58" fill="none" stroke="#a4a4a4" stroke-width="0.8" stroke-dasharray="1.9,1.5"/>
<polyline points="497.60,289.89 630.62,289.89" fill="none" stroke="#a4a4a4" stroke-width="0.8" stroke-dasharray="1.9,1.5"/>
<line x1="497.60" y1="287.14" x2="630.62" y2="287.14" stroke="#8a8a8a" stroke-width="1.4"/>
<path d="M497.60,276.92 L527.16,285.96 Q556.72,295.78 586.28,296.56 Q608.45,296.56 630.62,277.71" fill="none" stroke="#a0a0a0" stroke-width="0.8" stroke-dasharray="1.9,1.5"/>
<path d="M497.60,293.62 L586.28,311.88 Q598.10,304.03 609.93,305.21 Q623.23,306.78 630.62,310.31" fill="none" stroke="#a0a0a0" stroke-width="0.8" stroke-dasharray="1.9,1.5"/>
<polyline points="497.60,286.55 586.28,304.03 630.62,293.03" fill="none" stroke="#222" stroke-width="1.0"/>
<circle cx="512.38" cy="291.46" r="2.15" fill="none" stroke="#000" stroke-width="1.0"/>
<circle cx="527.16" cy="293.03" r="2.15" fill="none" stroke="#000" stroke-width="1.0"/>
<circle cx="541.94" cy="287.14" r="2.15" fill="none" stroke="#000" stroke-width="1.0"/>
<circle cx="556.72" cy="284.00" r="2.15" fill="none" stroke="#000" stroke-width="1.0"/>
<circle cx="571.50" cy="289.10" r="2.15" fill="none" stroke="#000" stroke-width="1.0"/>
<circle cx="586.28" cy="284.78" r="2.15" fill="none" stroke="#000" stroke-width="1.0"/>
<circle cx="601.06" cy="278.89" r="2.15" fill="none" stroke="#000" stroke-width="1.0"/>
<circle cx="615.84" cy="288.12" r="2.15" fill="none" stroke="#000" stroke-width="1.0"/>
<circle cx="630.62" cy="284.78" r="2.15" fill="none" stroke="#000" stroke-width="1.0"/>
<polygon points="512.38,289.04 515.19,293.96 509.57,293.96" fill="#000"/>
<polygon points="527.16,287.86 529.97,292.78 524.35,292.78" fill="#000"/>
<polygon points="541.94,284.33 544.75,289.24 539.13,289.24" fill="#000"/>
<polygon points="556.72,286.29 559.53,291.21 553.91,291.21" fill="#000"/>
<polygon points="571.50,294.15 574.31,299.06 568.69,299.06" fill="#000"/>
<polygon points="586.28,312.02 589.09,316.94 583.47,316.94" fill="#000"/>
<polygon points="601.06,305.34 603.87,310.26 598.25,310.26" fill="#000"/>
<polygon points="615.84,291.01 618.65,295.92 613.03,295.92" fill="#000"/>
<polygon points="630.62,290.42 633.43,295.33 627.81,295.33" fill="#000"/>
<circle cx="497.60" cy="290.28" r="2.24" fill="#000"/>
</svg>
</body></html>
